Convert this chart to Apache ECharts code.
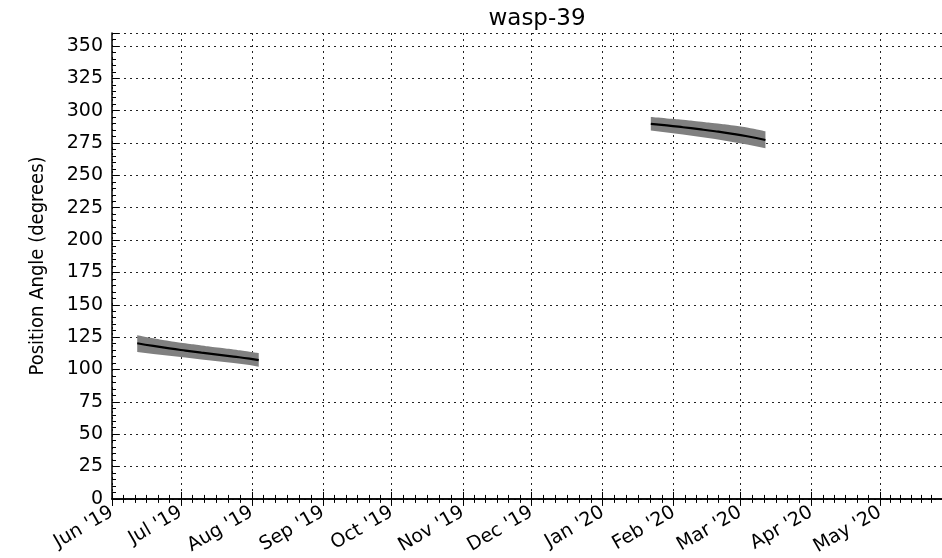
<!DOCTYPE html>
<html>
<head>
<meta charset="utf-8">
<script src="https://cdn.jsdelivr.net/npm/echarts@6/dist/echarts.min.js"></script>
<style>
  html, body { margin: 0; padding: 0; background: #fff; }
  #chart { width: 942px; height: 558px; }
</style>
</head>
<body>
<div id="chart"></div>
<script>
var monthNames = ['Jan','Feb','Mar','Apr','May','Jun','Jul','Aug','Sep','Oct','Nov','Dec'];

// first visibility window (summer 2019)
var dates1 = ['2019-06-12','2019-06-19','2019-06-26','2019-07-03','2019-07-10','2019-07-17','2019-07-24','2019-07-31','2019-08-04'];
var angle1 = [120.3, 118.2, 116.3, 114.6, 113.0, 111.5, 110.0, 108.4, 107.2];
var upper1 = [126.5, 124.2, 122.1, 120.3, 118.6, 117.0, 115.5, 113.8, 112.8];
var lower1 = [113.5, 112.0, 110.6, 109.2, 107.8, 106.4, 105.0, 103.4, 102.2];

// second visibility window (early 2020)
var dates2 = ['2020-01-22','2020-01-29','2020-02-05','2020-02-12','2020-02-19','2020-02-26','2020-03-04','2020-03-12'];
var angle2 = [289.8, 288.6, 287.2, 285.7, 284.1, 282.3, 280.2, 277.3];
var upper2 = [295.0, 294.0, 293.0, 291.7, 290.3, 288.8, 287.0, 284.0];
var lower2 = [284.6, 283.2, 281.6, 279.8, 278.0, 276.0, 273.8, 271.0];

var yTicks = [0, 25, 50, 75, 100, 125, 150, 175, 200, 225, 250, 275, 300, 325, 350];

function pairs(d, v) {
  var out = [];
  for (var i = 0; i < d.length; i++) out.push([d[i], v[i]]);
  return out;
}
function diffs(d, hi, lo) {
  var out = [];
  for (var i = 0; i < d.length; i++) out.push([d[i], +(hi[i] - lo[i]).toFixed(2)]);
  return out;
}

function bandSeries(name, d, hi, lo) {
  return [{
    name: name + '-lo',
    type: 'line',
    stack: name,
    data: pairs(d, lo),
    symbol: 'none',
    lineStyle: { opacity: 0 },
    silent: true
  }, {
    name: name + '-band',
    type: 'line',
    stack: name,
    data: diffs(d, hi, lo),
    symbol: 'none',
    smooth: true,
    lineStyle: { opacity: 0 },
    areaStyle: { color: '#808080', opacity: 1 },
    silent: true
  }];
}

var gridDash = { color: '#222', type: [2, 4], width: 1 };
var xMin = '2019-06-01';
var xMax = '2020-05-28';

var option = {
  animation: false,
  backgroundColor: '#fff',
  title: {
    text: 'wasp-39',
    left: 532,
    top: 3,
    textAlign: 'center',
    textStyle: { fontFamily: 'DejaVu Sans', fontSize: 23, fontWeight: 'normal', color: '#000' }
  },
  grid: { left: 112, top: 33, bottom: 59, right: 0, containLabel: false },
  xAxis: [{
    type: 'time',
    min: xMin,
    max: xMax,
    splitNumber: 12,
    axisLine: { show: true, onZero: false, lineStyle: { color: '#000', width: 1.5 } },
    axisTick: { show: true, inside: true, length: 7, lineStyle: { color: '#000' } },
    minorTick: { show: true, splitNumber: 6, length: 4, lineStyle: { color: '#000' } },
    splitLine: { show: true, lineStyle: gridDash },
    axisLabel: {
      rotate: 30,
      margin: 12,
      fontFamily: 'DejaVu Sans',
      fontSize: 19,
      color: '#000',
      formatter: function (val) {
        var d = new Date(val);
        return monthNames[d.getMonth()] + " '" + String(d.getFullYear()).slice(2);
      }
    }
  }, {
    type: 'time',
    position: 'top',
    min: xMin,
    max: xMax,
    splitNumber: 12,
    axisLine: { show: true, lineStyle: { color: '#000', width: 1.5 } },
    axisTick: { show: true, inside: true, length: 7, lineStyle: { color: '#000' } },
    minorTick: { show: true, splitNumber: 6, length: 4, lineStyle: { color: '#000' } },
    splitLine: { show: false },
    axisLabel: { show: false }
  }],
  yAxis: {
    type: 'value',
    min: 0,
    max: 360,
    interval: 25,
    name: 'Position Angle (degrees)',
    nameLocation: 'middle',
    nameRotate: 90,
    nameGap: 64,
    nameTextStyle: { fontFamily: 'DejaVu Sans Condensed', fontSize: 20, color: '#000' },
    axisLine: { show: true, lineStyle: { color: '#000', width: 1.5 } },
    axisTick: { show: true, inside: true, length: 7, lineStyle: { color: '#000' } },
    minorTick: { show: true, splitNumber: 5, length: 4, lineStyle: { color: '#000' } },
    splitLine: { show: true, lineStyle: gridDash },
    axisLabel: {
      fontFamily: 'DejaVu Sans',
      fontSize: 19,
      color: '#000',
      margin: 9,
      showMaxLabel: false,
      formatter: function (v) { return yTicks.indexOf(v) >= 0 ? String(v) : ''; }
    }
  },
  series: [].concat(
    bandSeries('s1', dates1, upper1, lower1),
    bandSeries('s2', dates2, upper2, lower2),
    [{
      name: 'angle1',
      type: 'line',
      data: pairs(dates1, angle1),
      symbol: 'none',
      smooth: true,
      lineStyle: { color: '#000', width: 2.2 },
      z: 5
    }, {
      name: 'angle2',
      type: 'line',
      data: pairs(dates2, angle2),
      symbol: 'none',
      smooth: true,
      lineStyle: { color: '#000', width: 2.2 },
      z: 5
    }]
  )
};

var chart = echarts.init(document.getElementById('chart'), null, { renderer: 'canvas' });
chart.setOption(option);
</script>
</body>
</html>
